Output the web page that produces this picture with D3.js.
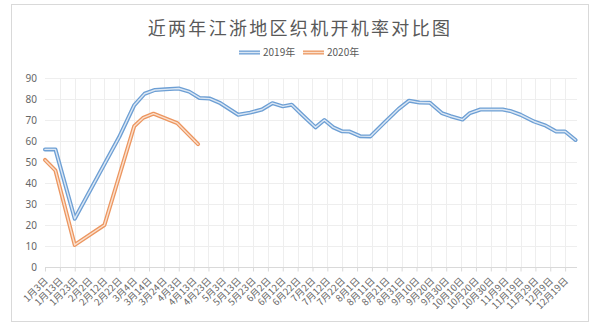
<!DOCTYPE html>
<html>
<head>
<meta charset="utf-8">
<script src="https://cdn.jsdelivr.net/npm/d3@7"></script>
<style>
  html, body { margin: 0; padding: 0; background: #ffffff; }
  svg { display: block; }
  text { font-family: "Noto Sans CJK SC", "Noto Sans", sans-serif; }
</style>
</head>
<body>
<svg id="chart" width="600" height="327"></svg>
<script>
// ---------------- data ----------------
const title = "近两年江浙地区织机开机率对比图";
const seriesNames = ["2019年", "2020年"];

const tickLabels = ["1月3日","1月13日","1月23日","2月2日","2月12日","2月22日","3月4日","3月14日","3月24日",
  "4月3日","4月13日","4月23日","5月3日","5月13日","5月23日","6月2日","6月12日","6月22日","7月2日",
  "7月12日","7月22日","8月1日","8月11日","8月21日","8月31日","9月10日","9月20日","9月30日","10月10日",
  "10月20日","10月30日","11月9日","11月19日","11月29日","12月9日","12月19日"];

const yTicks = [0, 10, 20, 30, 40, 50, 60, 70, 80, 90];

const dates2019 = ["01-03","01-10","01-23","02-22","03-04","03-11","03-18","03-25","04-03","04-10","04-17",
  "04-24","05-01","05-13","05-21","05-29","06-05","06-12","06-18","06-25","07-04","07-10","07-16","07-22",
  "07-27","08-03","08-10","08-19","08-29","09-05","09-12","09-19","09-27","10-03","10-11","10-16","10-23",
  "10-30","11-07","11-12","11-19","11-28","12-06","12-13","12-19","12-26"];
const values2019 = [56, 56, 23, 62, 77, 82.5, 84.3, 84.6, 85, 83.5, 80.5,
  80.2, 78, 72.5, 73.5, 75, 78, 76.5, 77.3, 72.5, 66.5, 70, 66.5, 64.6,
  64.5, 62.3, 62.2, 68.5, 75.3, 79.2, 78.3, 78.2, 73.3, 71.8, 70.2, 73.3, 75,
  75, 75, 74.3, 72.5, 69.3, 67.3, 64.5, 64.5, 60.5];

const dates2020 = ["01-03","01-10","01-23","02-12","03-04","03-10","03-17","04-02","04-16"];
const values2020 = [51, 46, 10.5, 20, 67, 71, 73, 68.5, 58.5];

// ---------------- layout ----------------
const svg = d3.select("#chart");
const plot = { left: 45, right: 577, top: 78, bottom: 267 };

const parseMD = s => { const [m, d] = s.split("-").map(Number); return new Date(2019, m - 1, d); };
const parseLabel = s => { const m = s.match(/(\d+)月(\d+)日/); return new Date(2019, +m[1] - 1, +m[2]); };

const tickDates = tickLabels.map(parseLabel);
const s2019 = dates2019.map((d, i) => ({ date: parseMD(d), v: values2019[i] }));
const s2020 = dates2020.map((d, i) => ({ date: parseMD(d), v: values2020[i] }));

const lastDate = d3.max(s2019, d => d.date);
const x = d3.scaleTime()
  .domain([tickDates[0], d3.timeDay.offset(lastDate, 1)])
  .range([plot.left, plot.right]);
const y = d3.scaleLinear().domain([0, 90]).range([plot.bottom, plot.top]);

// chart frame
svg.append("rect").attr("x", 11.5).attr("y", 4.5).attr("width", 577).attr("height", 317)
  .attr("fill", "#fff").attr("stroke", "#d9d9d9").attr("stroke-width", 1);

// title
svg.append("text").attr("x", 300).attr("y", 35).attr("text-anchor", "middle")
  .attr("font-size", 18).attr("letter-spacing", 2.3).attr("fill", "#595959").text(title);

// gridlines
const grid = svg.append("g");
grid.selectAll("line.h").data(yTicks.filter(t => t > 0)).join("line")
  .attr("x1", plot.left).attr("x2", plot.right)
  .attr("y1", d => Math.round(y(d)) + 0.5).attr("y2", d => Math.round(y(d)) + 0.5)
  .attr("stroke", "#eeeeee").attr("stroke-width", 1);
grid.selectAll("line.v").data(tickDates.slice(1)).join("line")
  .attr("x1", d => Math.round(x(d)) + 0.5).attr("x2", d => Math.round(x(d)) + 0.5)
  .attr("y1", plot.top).attr("y2", plot.bottom)
  .attr("stroke", "#eeeeee").attr("stroke-width", 1);

// y axis labels
const yAxis = d3.axisLeft(y).tickValues(yTicks).tickSize(0).tickPadding(8);
const gy = svg.append("g").attr("transform", `translate(${plot.left},0)`).call(yAxis);
gy.select(".domain").remove();
gy.selectAll("text").attr("font-size", 10).attr("fill", "#666666")
  .style("font-family", "'Noto Sans', sans-serif");

// x axis
const xAxis = d3.axisBottom(x).tickValues(tickDates).tickSize(4).tickFormat((d, i) => tickLabels[i]);
const gx = svg.append("g").attr("transform", `translate(0,${Math.round(plot.bottom) + 0.5})`).call(xAxis);
gx.select(".domain").attr("stroke", "#d9d9d9").attr("d", `M${plot.left},0H${plot.right}`);
gx.selectAll(".tick line").attr("stroke", "#d9d9d9");
gx.selectAll(".tick text")
  .attr("font-size", 9.5).attr("fill", "#666666")
  .attr("text-anchor", "end")
  .attr("x", 0).attr("y", 0).attr("dy", "0")
  .attr("transform", "translate(3,14) rotate(-45)");

// lines
const line = d3.line().x(d => x(d.date)).y(d => y(d.v));
function drawDouble(data, outer, inner) {
  svg.append("path").datum(data).attr("d", line).attr("fill", "none")
    .attr("stroke", outer).attr("stroke-width", 4).attr("stroke-linejoin", "round").attr("stroke-linecap", "round");
  svg.append("path").datum(data).attr("d", line).attr("fill", "none")
    .attr("stroke", inner).attr("stroke-width", 1.4).attr("stroke-linejoin", "round").attr("stroke-linecap", "round");
}
const colors = [["#6d9fd4", "#dbe7f4"], ["#ec9660", "#fbe0cd"]];
drawDouble(s2019, colors[0][0], colors[0][1]);
drawDouble(s2020, colors[1][0], colors[1][1]);

// legend
const legend = svg.append("g");
const legendItems = [{ name: seriesNames[0], x: 239, c: colors[0] }, { name: seriesNames[1], x: 303, c: colors[1] }];
legendItems.forEach(it => {
  legend.append("line").attr("x1", it.x).attr("x2", it.x + 21).attr("y1", 52.5).attr("y2", 52.5)
    .attr("stroke", it.c[0]).attr("stroke-width", 4);
  legend.append("line").attr("x1", it.x).attr("x2", it.x + 21).attr("y1", 52.5).attr("y2", 52.5)
    .attr("stroke", it.c[1]).attr("stroke-width", 1.4);
  legend.append("text").attr("x", it.x + 24).attr("y", 56).attr("font-size", 10)
    .attr("fill", "#595959").text(it.name);
});
</script>
</body>
</html>
